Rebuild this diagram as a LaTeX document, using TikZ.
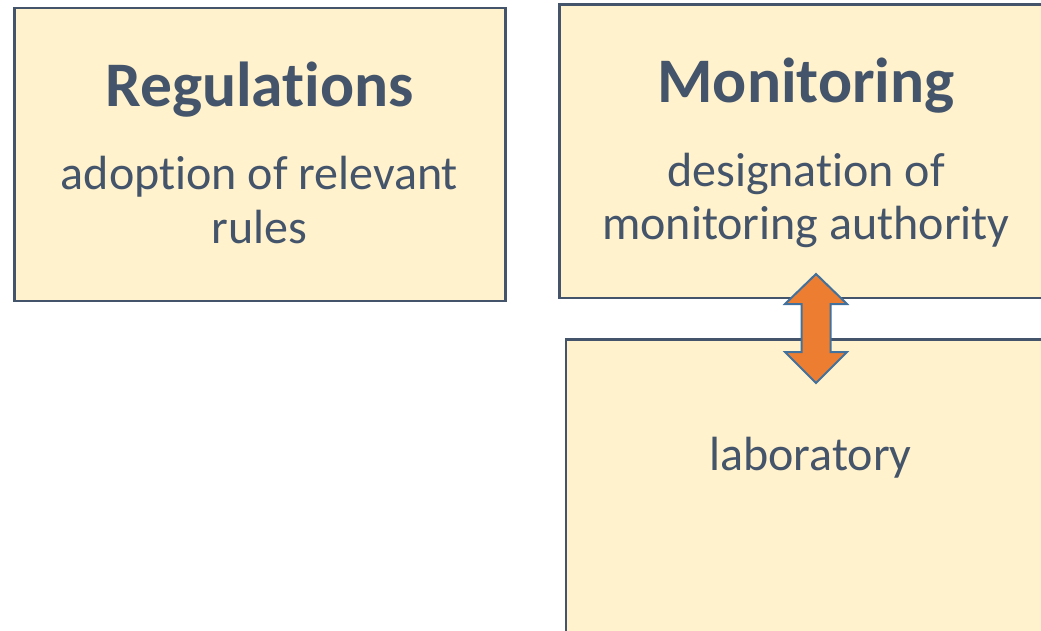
\documentclass[tikz,border=0pt]{standalone}
\usepackage{fontspec}
\setmainfont{Carlito}[Ligatures=CommonOff]
\usetikzlibrary{calc}
\definecolor{boxfill}{HTML}{FFF2CC}
\definecolor{boxline}{HTML}{44546A}
\definecolor{txt}{HTML}{44546A}
\definecolor{arrowfill}{HTML}{ED7D31}
\definecolor{arrowline}{HTML}{41719C}
\begin{document}
\begin{tikzpicture}[x=1pt,y=-1pt,
  box/.style={draw=boxline, fill=boxfill, line width=2.8pt, outer sep=0pt, inner sep=0pt, anchor=north west},
  title/.style={text=txt, font=\fontsize{63.5}{70}\selectfont\bfseries, anchor=base, inner sep=0pt},
  body/.style={text=txt, font=\fontsize{48}{53}\selectfont, align=center, anchor=base, inner sep=0pt},
  dblarrow/.style={draw=arrowline, fill=arrowfill, line width=2pt, line join=miter}]
\useasboundingbox (0,0) rectangle (1041,631);
\fill[white] (0,0) rectangle (1041,631);
\node[box, minimum width=491pt, minimum height=293pt] (reg) at (14.5,8) {};
\node[box, minimum width=495pt, minimum height=293.5pt] (mon) at (559.5,4.5) {};
\node[box, minimum width=490pt, minimum height=360pt] (lab) at (566,339.5) {};
\node[title] (regt) at (259.5,107) {Regulations};
\node[body] (regb) at (259.5,243) {adoption of relevant\\rules};
\node[title] (mont) at (806,103) {Monitoring};
\node[body] (monb) at (806,240) {designation of\\monitoring authority};
\node[body] (labb) at (810.5,470) {laboratory};
\coordinate (ac) at (816,328.5);
\draw[dblarrow] ($(ac)+(0,-54.5)$) -- ($(ac)+(31,-24.5)$) -- ($(ac)+(14.5,-24.5)$)
  -- ($(ac)+(14.5,23.5)$) -- ($(ac)+(31,23.5)$) -- ($(ac)+(0,54.5)$)
  -- ($(ac)+(-31,23.5)$) -- ($(ac)+(-14.5,23.5)$) -- ($(ac)+(-14.5,-24.5)$)
  -- ($(ac)+(-31,-24.5)$) -- cycle;
\end{tikzpicture}
\end{document}
